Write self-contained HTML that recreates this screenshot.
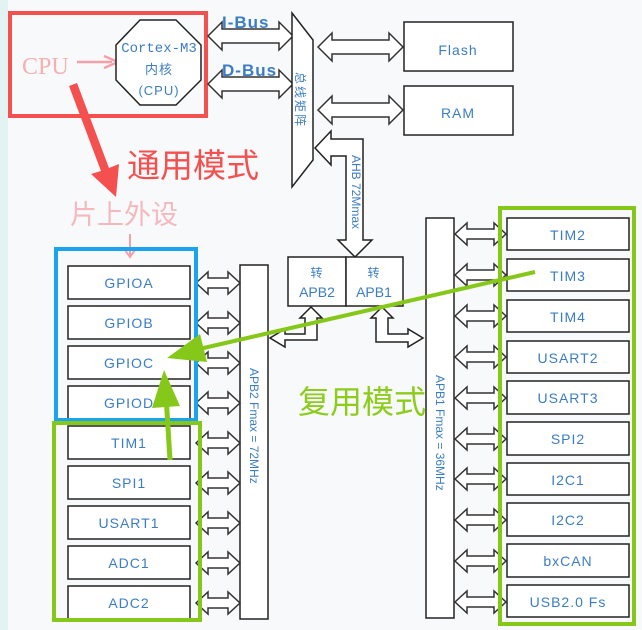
<!DOCTYPE html>
<html><head><meta charset="utf-8"><style>
html,body{margin:0;padding:0;background:#f8f9fa;}
svg{display:block;}
text{font-family:"Liberation Sans","Noto Sans CJK SC",sans-serif;}
.b{fill:#3b7dc4;font-size:14px;text-anchor:middle;letter-spacing:1px;}
</style></head><body>
<svg width="642" height="630" viewBox="0 0 642 630" xmlns="http://www.w3.org/2000/svg">
<defs>
<path id="a44" d="M0,0 L12,-11 L12,-5 L32,-5 L32,-11 L44,0 L32,11 L32,5 L12,5 L12,11 Z" fill="#fff" stroke="#333" stroke-width="1.5"/>
<path id="a51" d="M0,0 L12,-11 L12,-5 L39,-5 L39,-11 L51,0 L39,11 L39,5 L12,5 L12,11 Z" fill="#fff" stroke="#333" stroke-width="1.5"/>
<path id="a85" d="M0,0 L14,-14 L14,-7 L71,-7 L71,-14 L85,0 L71,14 L71,7 L14,7 L14,14 Z" fill="#fff" stroke="#333" stroke-width="1.5"/>
</defs>
<rect x="0" y="0" width="8" height="630" fill="#e3f3f4"/>
<rect x="8" y="0" width="634" height="630" fill="#f8f9fa"/>

<rect x="10" y="13" width="196" height="103" fill="none" stroke="#f45050" stroke-width="4"/>
<text x="22" y="74" style="font-family:'Liberation Serif',serif;font-size:24px;fill:#f5b0b0">CPU</text>
<line x1="77" y1="62" x2="112" y2="62" stroke="#f5a0a8" stroke-width="2.5"/>
<path d="M104,56 L118,62 L104,68" fill="none" stroke="#f5a0a8" stroke-width="2.5"/>
<polygon points="140,20 176,20 201,45 201,80 176,105 140,105 116,80 116,45" fill="#fff" stroke="#222" stroke-width="1.5"/>
<text x="159" y="52" class="b" style="font-family:'Liberation Mono',monospace;font-size:14px;letter-spacing:0">Cortex-M3</text>
<text x="159" y="74" class="b" style="font-size:13px">内核</text>
<text x="159" y="95" class="b" style="font-size:13px">(CPU)</text>
<text x="222" y="28" class="b" style="text-anchor:start;font-size:17px;font-weight:bold">I-Bus</text>
<text x="222" y="76" class="b" style="text-anchor:start;font-size:17px;font-weight:bold">D-Bus</text>
<use href="#a85" x="208" y="36"/>
<use href="#a85" x="208" y="84"/>

<polygon points="292,13 313,40 313,160 292,187" fill="#fff" stroke="#222" stroke-width="1.5"/>
<text transform="translate(300,100) rotate(90)" class="b" style="font-size:12px;letter-spacing:2px" dy="4">总线矩阵</text>
<use href="#a85" x="318" y="47"/>
<use href="#a85" x="318" y="110"/>
<rect x="404" y="22" width="109" height="49" fill="#fff" stroke="#222" stroke-width="1.5"/>
<text x="458" y="55" class="b">Flash</text>
<rect x="404" y="86" width="109" height="49" fill="#fff" stroke="#222" stroke-width="1.5"/>
<text x="458" y="118" class="b">RAM</text>
<path d="M315,148 L331,131 L331,139 L363,139 L363,240 L372,240 L355,257 L338,240 L346,240 L346,156 L331,156 L331,165 Z" fill="#fff" stroke="#222" stroke-width="1.5"/>
<text transform="translate(350,155) rotate(90)" style="font-size:12px;fill:#3b7dc4" dy="-2">AHB 72Mmax</text>

<rect x="288" y="257" width="58" height="49" fill="#fff" stroke="#222" stroke-width="1.5"/>
<rect x="346" y="257" width="57" height="49" fill="#fff" stroke="#222" stroke-width="1.5"/>
<text x="317" y="277" class="b" style="font-size:12px">转</text>
<text x="317" y="297" class="b" style="letter-spacing:0">APB2</text>
<text x="374" y="277" class="b" style="font-size:12px">转</text>
<text x="374" y="297" class="b" style="letter-spacing:0">APB1</text>
<path d="M311,307 L322,318 L317,318 L317,340 L285,340 L285,347 L270,338 L285,329 L285,334 L305,334 L305,318 L300,318 Z" fill="#fff" stroke="#222" stroke-width="1.5"/>
<path d="M382,307 L393,318 L388,318 L388,334 L408,334 L408,329 L423,338 L408,347 L408,342 L376,342 L376,318 L371,318 Z" fill="#fff" stroke="#222" stroke-width="1.5"/>

<polygon points="69,86 77,83 109,168 119,164 116,197 91,174 101,171" fill="#f45050"/>
<text x="127" y="177" style="font-family:'Noto Sans CJK SC',sans-serif;font-size:33px;fill:#f45050">通用模式</text>
<text x="70" y="224" style="font-family:'Noto Sans CJK SC',sans-serif;font-size:27px;fill:#f5b8bc">片上外设</text>
<line x1="130" y1="234" x2="130" y2="256" stroke="#f5a0a8" stroke-width="2"/>
<path d="M125,250 L130,257 L135,250" fill="none" stroke="#f5a0a8" stroke-width="2"/>

<rect x="240" y="265" width="28" height="354" fill="#fff" stroke="#222" stroke-width="1.5"/>
<text transform="translate(254,368) rotate(90)" style="font-size:12px;fill:#3b7dc4" dy="4">APB2 Fmax = 72MHz</text>
<g fill="#fff" stroke="#222" stroke-width="1.5">
<rect x="68" y="266" width="122" height="33"/><rect x="68" y="306" width="122" height="33"/>
<rect x="68" y="346" width="122" height="33"/><rect x="68" y="386" width="122" height="33"/>
<rect x="68" y="426" width="122" height="33"/><rect x="68" y="466" width="122" height="33"/>
<rect x="68" y="506" width="122" height="33"/><rect x="68" y="546" width="122" height="33"/>
<rect x="68" y="586" width="122" height="33"/>
</g>
<text x="129" y="288" class="b">GPIOA</text><text x="129" y="328" class="b">GPIOB</text>
<text x="129" y="368" class="b">GPIOC</text><text x="129" y="408" class="b">GPIOD</text>
<text x="129" y="448" class="b">TIM1</text><text x="129" y="488" class="b">SPI1</text>
<text x="129" y="528" class="b">USART1</text><text x="129" y="568" class="b">ADC1</text>
<text x="129" y="608" class="b">ADC2</text>
<use href="#a44" x="196" y="283"/><use href="#a44" x="196" y="323"/><use href="#a44" x="196" y="363"/>
<use href="#a44" x="196" y="403"/><use href="#a44" x="196" y="443"/><use href="#a44" x="196" y="483"/>
<use href="#a44" x="196" y="523"/><use href="#a44" x="196" y="563"/><use href="#a44" x="196" y="603"/>
<rect x="56" y="249" width="140" height="171" fill="none" stroke="#1aa3f0" stroke-width="4"/>
<rect x="54" y="423" width="146" height="197" fill="none" stroke="#86c81a" stroke-width="4"/>

<rect x="426" y="218" width="28" height="400" fill="#fff" stroke="#222" stroke-width="1.5"/>
<text transform="translate(440,375) rotate(90)" style="font-size:12px;fill:#3b7dc4" dy="4">APB1 Fmax = 36MHz</text>
<g fill="#fff" stroke="#222" stroke-width="1.5">
<rect x="507" y="218" width="122" height="32"/><rect x="507" y="259" width="122" height="32"/>
<rect x="507" y="300" width="122" height="32"/><rect x="507" y="341" width="122" height="32"/>
<rect x="507" y="381" width="122" height="33"/><rect x="507" y="422" width="122" height="33"/>
<rect x="507" y="463" width="122" height="32"/><rect x="507" y="503" width="122" height="33"/>
<rect x="507" y="544" width="122" height="33"/><rect x="507" y="585" width="122" height="32"/>
</g>
<text x="568" y="240" class="b">TIM2</text><text x="568" y="281" class="b">TIM3</text>
<text x="568" y="322" class="b">TIM4</text><text x="568" y="363" class="b">USART2</text>
<text x="568" y="403" class="b">USART3</text><text x="568" y="444" class="b">SPI2</text>
<text x="568" y="485" class="b">I2C1</text><text x="568" y="525" class="b">I2C2</text>
<text x="568" y="566" class="b">bxCAN</text><text x="568" y="607" class="b">USB2.0 Fs</text>
<use href="#a51" x="455" y="234"/><use href="#a51" x="455" y="275"/><use href="#a51" x="455" y="316"/>
<use href="#a51" x="455" y="357"/><use href="#a51" x="455" y="398"/><use href="#a51" x="455" y="439"/>
<use href="#a51" x="455" y="479"/><use href="#a51" x="455" y="520"/><use href="#a51" x="455" y="561"/>
<use href="#a51" x="455" y="602"/>
<rect x="500" y="208" width="134" height="416" fill="none" stroke="#86c81a" stroke-width="4"/>

<line x1="535" y1="272" x2="195" y2="350" stroke="#86c81a" stroke-width="4"/>
<polygon points="167,358 200,334 207,362" fill="#86c81a"/>
<line x1="170" y1="460" x2="166" y2="395" stroke="#86c81a" stroke-width="5"/>
<polygon points="164,370 152,408 180,406" fill="#86c81a"/>
<text x="298" y="413" style="font-family:'Noto Sans CJK SC',sans-serif;font-size:32px;fill:#8ccc1a">复用模式</text>
</svg>
</body></html>
